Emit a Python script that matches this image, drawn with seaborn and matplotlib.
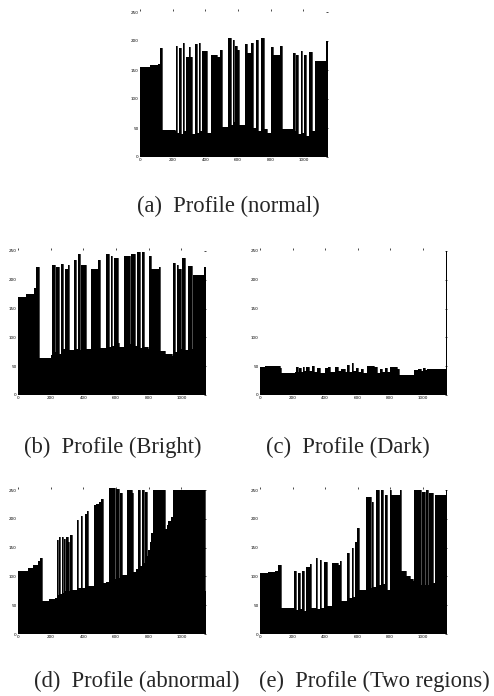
import matplotlib
matplotlib.use("Agg")
import pandas as pd
import matplotlib.pyplot as plt
import seaborn as sns

# Profile data: step edges (x) and levels (y)
a_x = [0, 60, 112, 124, 134, 214, 220, 228, 240, 250, 260, 268, 280, 300, 308, 316, 338, 346,
       358, 366, 380, 412, 436, 470, 490, 500, 540, 556, 566, 578, 584, 594, 604, 644, 652, 680,
       690, 712, 724, 740, 760, 774, 802, 812, 858, 868, 936, 946, 956, 968, 982, 994, 1002,
       1018, 1034, 1052, 1068, 1138, 1150]
a_y = [156, 158, 161, 188, 46, 44, 191, 42, 188, 40, 196, 45, 173, 190, 173, 40, 194, 42,
       196, 44, 182, 42, 176, 172, 185, 52, 205, 55, 202, 60, 191, 185, 55, 194, 179, 196,
       50, 202, 45, 205, 48, 42, 190, 176, 192, 49, 180, 45, 176, 40, 183, 42, 176,
       36, 181, 45, 165, 200, 200]

b_x = [0, 50, 100, 112, 128, 204, 210, 224, 235, 250, 262, 276, 286, 306, 314, 340, 356, 368,
       378, 388, 414, 444, 490, 500, 540, 558, 566, 578, 586, 612, 620, 648, 684, 694, 714,
       726, 746, 756, 770, 796, 804, 812, 864, 868, 900, 940, 950, 960, 970, 980, 1000, 1006,
       1020, 1042, 1062, 1072, 1140, 1150]
b_y = [170, 175, 185, 222, 64, 70, 225, 75, 222, 72, 228, 80, 219, 225, 78, 234, 80, 245,
       78, 225, 80, 219, 234, 81, 245, 84, 242, 85, 237, 90, 84, 242, 88, 245, 85,
       248, 82, 249, 84, 80, 242, 219, 222, 76, 72, 68, 230, 75, 225, 218, 80, 237,
       78, 224, 80, 208, 222, 222]

c_x = [0, 30, 125, 130, 215, 222, 232, 240, 252, 262, 272, 284, 300, 320, 332, 352, 372, 402,
       420, 432, 462, 480, 500, 520, 536, 548, 564, 574, 590, 602, 620, 636, 660, 700, 720,
       736, 752, 768, 780, 800, 840, 856, 932, 936, 946, 970, 990, 1000, 1016, 1030, 1060,
       1144, 1150]
c_y = [49, 50, 47, 38, 40, 48, 40, 47, 40, 49, 42, 48, 41, 50, 40, 47, 39, 47,
       49, 40, 48, 42, 46, 40, 52, 40, 55, 42, 47, 40, 46, 39, 50, 49, 39,
       46, 40, 47, 40, 48, 46, 35, 0, 35, 43, 46, 42, 47, 43, 46, 45,
       250, 250]

d_x = [0, 30, 60, 90, 120, 136, 146, 190, 225, 238, 244, 252, 258, 270, 276, 280, 288, 296,
       304, 312, 320, 332, 362, 370, 384, 394, 408, 420, 430, 464, 480, 496, 510, 518, 540,
       556, 592, 598, 618, 626, 638, 668, 700, 706, 724, 734, 744, 756, 770, 776, 790, 798,
       808, 816, 826, 898, 910, 920, 934, 948, 1146, 1150]
d_y = [109, 110, 115, 120, 126, 132, 57, 60, 62, 163, 68, 169, 70, 168, 72, 165, 74, 169,
       160, 75, 172, 76, 198, 80, 204, 80, 208, 213, 84, 224, 226, 230, 235, 88, 90,
       253, 96, 252, 98, 244, 103, 250, 245, 108, 112, 250, 118, 250, 124, 247, 135, 145,
       160, 175, 250, 182, 190, 196, 203, 250, 74, 74]

e_x = [0, 50, 90, 112, 130, 212, 224, 234, 246, 260, 270, 282, 306, 312, 344, 352, 368, 378,
       394, 414, 440, 480, 490, 500, 536, 548, 564, 574, 582, 598, 606, 650, 680, 686, 696,
       716, 734, 742, 758, 766, 778, 802, 808, 862, 870, 900, 920, 938, 942, 950, 990, 998,
       1012, 1022, 1034, 1042, 1064, 1074, 1146, 1150]
e_y = [106, 107, 109, 120, 46, 109, 42, 106, 44, 109, 40, 117, 122, 45, 132, 44, 129, 46,
       125, 48, 123, 120, 126, 57, 140, 62, 149, 64, 160, 184, 77, 238, 80, 230, 82,
       250, 85, 250, 86, 241, 77, 250, 241, 250, 109, 100, 95, 0, 92, 250, 85, 247,
       85, 250, 85, 245, 88, 241, 250, 250]

captions = ["(a)  Profile (normal)", "(b)  Profile (Bright)", "(c)  Profile (Dark)",
            "(d)  Profile (abnormal)", "(e)  Profile (Two regions)"]
x_ticks = [0, 200, 400, 600, 800, 1000]
y_ticks = [0, 50, 100, 150, 200, 250]

sns.set_style("white")
plt.rcParams['font.family'] = ['Liberation Serif', 'DejaVu Serif']

W, H = 494, 696
fig = plt.figure(figsize=(W / 100, H / 100), dpi=100)

# pixel boxes (left, right, top=y250, bottom=y0) and caption centres
boxes = [(140, 328, 12, 157), (18, 206, 251, 395), (260, 447, 251, 395),
         (18, 206, 490, 634), (260, 447, 490, 634)]
cap_pos = [(228, 206), (113, 447), (348, 447), (137, 681), (374, 681)]
data = [(a_x, a_y), (b_x, b_y), (c_x, c_y), (d_x, d_y), (e_x, e_y)]

for (L, R, T, B), (xs, ys), cap, (cx, cy) in zip(boxes, data, captions, cap_pos):
    h = (B - T) * 256 / 250
    ax = fig.add_axes([L / W, 1 - B / H, (R - L) / W, h / H])
    df = pd.DataFrame({"x": xs, "y": ys})
    ax.fill_between(df["x"], df["y"], step="post", color="black", lw=0)
    sns.lineplot(data=df, x="x", y="y", drawstyle="steps-post", color="black",
                 lw=0.5, estimator=None, sort=False, ax=ax)
    ax.set_xlim(0, 1150)
    ax.set_ylim(0, 256)
    ax.set_xticks(x_ticks)
    ax.set_yticks(y_ticks)
    ax.set_xlabel("")
    ax.set_ylabel("")
    for s in ax.spines.values():
        s.set_visible(False)
    ax.tick_params(top=True, right=True, direction="in", length=1.5, width=0.5,
                   labelsize=3, pad=1, colors="black")
    for lab in ax.get_xticklabels() + ax.get_yticklabels():
        lab.set_family("DejaVu Sans")
    fig.text(cx / W, 1 - cy / H, cap, ha="center", va="center", fontsize=16.3)

fig.savefig("out.png", dpi=100)
